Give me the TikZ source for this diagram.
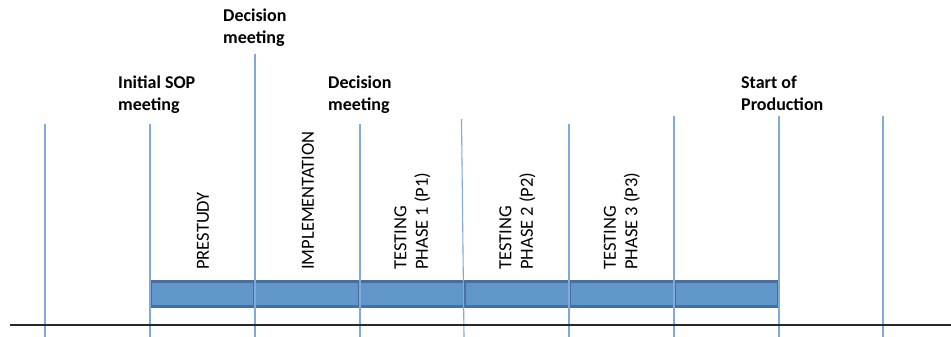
\documentclass[tikz,border=0pt]{standalone}
\usepackage{fontspec}
\setmainfont{Carlito}
\usepackage{tikz}
\usetikzlibrary{positioning}
\definecolor{lineblue}{RGB}{128,170,218}
\definecolor{barblue}{RGB}{96,150,201}
\definecolor{barborder}{RGB}{70,110,158}
\definecolor{axisgray}{RGB}{40,40,40}

\begin{document}
\begin{tikzpicture}[x=1pt,y=-1pt,
  phase/.style={draw=barborder, fill=barblue, line width=3pt,
    minimum width=104.8pt, minimum height=25pt, inner sep=0pt, outer sep=0pt},
  milestone/.style={draw=lineblue, line width=1.1pt},
  phaselabel/.style={rotate=90, anchor=west, align=left, inner sep=0pt,
    font=\fontsize{18.5}{21.5}\selectfont},
  meeting/.style={anchor=north west, align=left, inner sep=0pt,
    font=\bfseries\fontsize{18}{22}\selectfont}]
  \useasboundingbox (0,0) rectangle (951,337);
  % the bar of phases
  \node[phase] (p1) at (202.4,294) {};
  \node[phase, right=0pt of p1] (p2) {};
  \node[phase, right=0pt of p2] (p3) {};
  \node[phase, right=0pt of p3] (p4) {};
  \node[phase, right=0pt of p4] (p5) {};
  \node[phase, right=0pt of p5] (p6) {};
  % milestones
  \coordinate (t0) at (45,124);   \coordinate (b0) at (45,337);
  \coordinate (t1) at (150,124);  \coordinate (b1) at (150,337);
  \coordinate (t2) at (255,54);   \coordinate (b2) at (255,337);
  \coordinate (t3) at (360,124);  \coordinate (b3) at (360,337);
  \coordinate (t4) at (461.5,119);\coordinate (b4) at (464,337);
  \coordinate (t5) at (569,124);  \coordinate (b5) at (569,337);
  \coordinate (t6) at (674,116);  \coordinate (b6) at (674,337);
  \coordinate (t7) at (779,116);  \coordinate (b7) at (779,337);
  \coordinate (t8) at (883,116);  \coordinate (b8) at (883,337);
  \draw[milestone] (t0) -- (b0);
  \draw[milestone] (t1) -- (b1);
  \draw[milestone] (t2) -- (b2);
  \draw[milestone] (t3) -- (b3);
  \draw[milestone] (t4) -- (b4);
  \draw[milestone] (t5) -- (b5);
  \draw[milestone] (t6) -- (b6);
  \draw[milestone] (t7) -- (b7);
  \draw[milestone] (t8) -- (b8);
  % time axis
  \coordinate (a0) at (10,325);
  \coordinate (a1) at (951,325);
  \draw[axisgray, line width=1.3pt] (a0) -- (a1);
  % phase names
  \node[phaselabel] (prestudy) at (203,270) {PRESTUDY};
  \node[phaselabel] (impl) at (308,270) {IMPLEMENTATION};
  \node[phaselabel] (test1) at (412.5,270) {TESTING\\PHASE 1 (P1)};
  \node[phaselabel] (test2) at (517.5,270) {TESTING\\PHASE 2 (P2)};
  \node[phaselabel] (test3) at (622,270) {TESTING\\PHASE 3 (P3)};
  % meetings
  \node[meeting] (dec1) at (223,9) {Decision\\meeting};
  \node[meeting] (sop) at (118,76) {Initial SOP\\meeting};
  \node[meeting] (dec2) at (328,76) {Decision\\meeting};
  \node[meeting] (start) at (741,76) {Start of\\Production};
\end{tikzpicture}
\end{document}
